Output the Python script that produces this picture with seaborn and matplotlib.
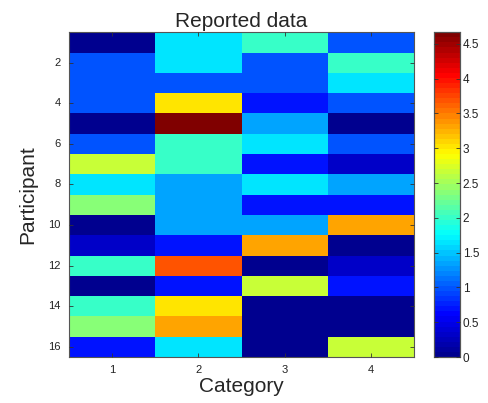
import numpy as np
import pandas as pd
import matplotlib
matplotlib.use('Agg')
import matplotlib.pyplot as plt
from matplotlib.colors import LinearSegmentedColormap
import seaborn as sns

# values (multiples of 1/3)
participants = list(range(1, 17))
categories = [1, 2, 3, 4]
cat1 = [0, 1, 1, 1, 0, 1, 8/3, 5/3, 7/3, 0, 1/3, 2, 0, 2, 7/3, 2/3]
cat2 = [5/3, 5/3, 1, 3, 14/3, 2, 2, 4/3, 4/3, 4/3, 2/3, 11/3, 2/3, 3, 10/3, 5/3]
cat3 = [2, 1, 1, 2/3, 4/3, 5/3, 2/3, 5/3, 2/3, 4/3, 10/3, 0, 8/3, 0, 0, 0]
cat4 = [1, 2, 5/3, 1, 0, 1, 1/3, 4/3, 2/3, 10/3, 0, 1/3, 2/3, 0, 0, 8/3]
cbar_ticks = [0, 0.5, 1, 1.5, 2, 2.5, 3, 3.5, 4, 4.5]

df = pd.DataFrame({1: cat1, 2: cat2, 3: cat3, 4: cat4}, index=participants)

# matlab style jet (64 levels)
mjet = LinearSegmentedColormap.from_list('mjet', [
    (0.0, (0, 0, 0.5625)), (0.125, (0, 0, 1)), (0.375, (0, 1, 1)),
    (0.625, (1, 1, 0)), (0.875, (1, 0, 0)), (1.0, (0.5, 0, 0))], N=64)

sns.set_style('white')
plt.rcParams['font.family'] = ['Liberation Sans', 'DejaVu Sans']

fig = plt.figure(figsize=(4.89, 4.03), dpi=100)
ax = fig.add_axes([0.141, 0.114, 0.706, 0.806])
cax = fig.add_axes([0.888, 0.114, 0.053, 0.806])

sns.heatmap(df, ax=ax, cbar_ax=cax, cmap=mjet,
            vmin=0, vmax=df.values.max(), cbar_kws={'ticks': cbar_ticks})

ax.set_axisbelow(False)
ax.set_xticks(np.arange(len(categories)) + 0.5)
ax.set_xticklabels([str(c) for c in categories], rotation=0)
yt = [p for p in participants if p % 2 == 0]
ax.set_yticks([p - 0.5 for p in yt])
ax.set_yticklabels([str(p) for p in yt], rotation=0)

ax.tick_params(direction='in', length=3, width=0.6, labelsize=8,
               top=True, right=True, bottom=True, left=True, colors='#333333',
               labelcolor='#222222', pad=6)
for s in ax.spines.values():
    s.set_visible(True)
    s.set_color('#555555')
    s.set_linewidth(0.8)

ax.set_title('Reported data', fontsize=15, pad=4)
ax.set_xlabel('Category', fontsize=15, labelpad=1)
ax.set_ylabel('Participant', fontsize=15, labelpad=8)

cax.set_axisbelow(False)
cax.set_yticks(cbar_ticks)
cax.set_yticklabels(['%g' % t for t in cbar_ticks])
cax.tick_params(direction='in', length=3, width=0.6, labelsize=8.5,
                left=True, right=True, pad=2, colors='#333333',
                labelcolor='#222222')
for s in cax.spines.values():
    s.set_visible(True)
    s.set_color('#555555')
    s.set_linewidth(0.8)

fig.savefig('out.png', dpi=100)
